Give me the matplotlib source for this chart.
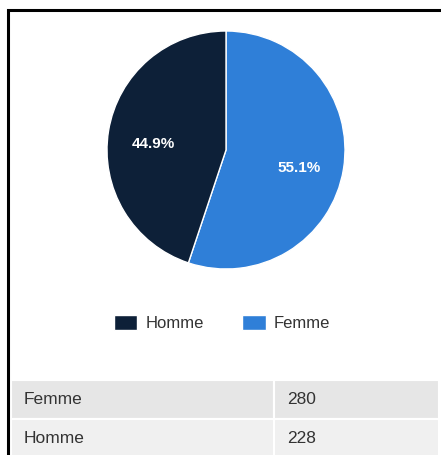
import matplotlib.pyplot as plt
from matplotlib.patches import Rectangle

plt.rcParams['font.family'] = ['Liberation Sans', 'DejaVu Sans']

labels = ['Femme', 'Homme']
counts = [280, 228]
colors = ['#2f7fd8', '#0d2038']

W, H = 441, 455
fig = plt.figure(figsize=(W / 100, H / 100), dpi=100)

def px(l, t, w, h):
    # pixel box (from top-left) -> figure fraction
    return [l / W, 1 - (t + h) / H, w / W, h / H]

# outer frame
fig.patches.append(Rectangle((8 / W, -0.1), 1.2, 1 - 10 / H + 0.1,
                             transform=fig.transFigure, fill=False,
                             edgecolor='black', linewidth=2.2))

# pie
ax = fig.add_axes(px(107, 31, 238, 238))
wedges, texts, autotexts = ax.pie(
    counts, colors=colors, startangle=90, counterclock=False,
    autopct='%.1f%%', pctdistance=0.62,
    wedgeprops=dict(edgecolor='white', linewidth=1),
    textprops=dict(color='white', fontsize=11, fontweight='bold'))
for t in autotexts:
    x, y = t.get_position()
    t.set_position((x, y - 6 / 119))
ax.set_xlim(-1, 1)
ax.set_ylim(-1, 1)

# legend (Homme first)
fig.legend([wedges[1], wedges[0]], [labels[1], labels[0]],
           loc='center', bbox_to_anchor=(222 / W, 1 - 323 / H), ncol=2,
           frameon=False, fontsize=12, handlelength=1.4, handleheight=1.0,
           handletextpad=0.5, columnspacing=2.3, labelcolor='#333333')

# table
tax = fig.add_axes(px(11, 380, 428, 78))
tax.axis('off')
rows = [[lab, str(c)] for lab, c in zip(labels, counts)]
row_bg = ['#e6e6e6', '#f0f0f0']
tab = tax.table(cellText=rows, cellColours=[[c, c] for c in row_bg],
                cellLoc='left', colWidths=[263, 165], bbox=[0, 0, 1, 1])
tab.auto_set_font_size(False)
for (r, c), cell in tab.get_celld().items():
    cell.set_edgecolor('white')
    cell.set_linewidth(1.5)
    cell.PAD = 13 / (263 if c == 0 else 165)
    cell.get_text().set_fontsize(12.5)
    cell.get_text().set_color('#333333')

fig.savefig('out.png', dpi=100)
